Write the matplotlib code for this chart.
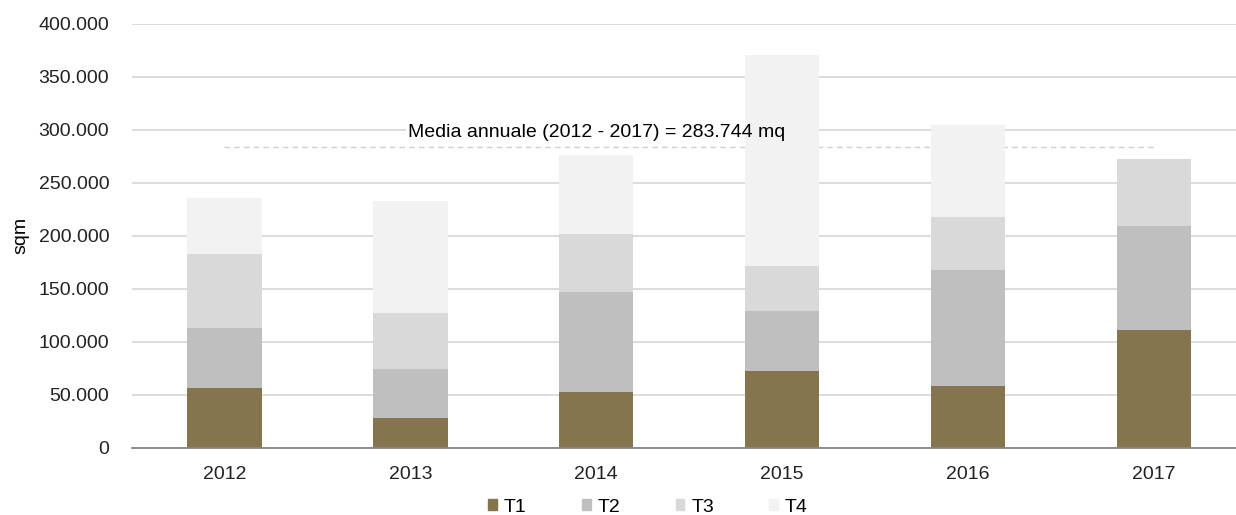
import matplotlib.pyplot as plt
from matplotlib.patches import Patch

plt.rcParams['font.family'] = ['Liberation Sans', 'DejaVu Sans']

# quarterly take-up per year (sqm)
years = ["2012", "2013", "2014", "2015", "2016", "2017"]
t1 = [56500, 28200, 52400, 72300, 58100, 111000]
t2 = [56700, 46200, 94500, 56900, 109600, 97900]
t3 = [69300, 52600, 54800, 42200, 50000, 63900]
t4 = [53200, 105500, 74900, 199600, 86900, 0]
quarters = ["T1", "T2", "T3", "T4"]
colors = ["#85754e", "#bfbfbf", "#d9d9d9", "#f2f2f2"]
media = 283744

fig = plt.figure(figsize=(12.36, 5.15), dpi=100)
ax = fig.add_axes([131.5 / 1236, 67.5 / 515, 1115.5 / 1236, 423.5 / 515])

x = list(range(len(years)))
bottom = [0] * len(years)
for vals, q, c in zip([t1, t2, t3, t4], quarters, colors):
    ax.bar(x, vals, width=0.4, bottom=bottom, color=c, label=q, zorder=2)
    bottom = [b + v for b, v in zip(bottom, vals)]

ax.set_ylim(0, 400000)
ax.set_xlim(-0.5, 5.5)
ax.set_yticks(range(0, 400001, 50000))
ax.set_yticklabels(["0" if v == 0 else f"{v:,}".replace(",", ".") for v in range(0, 400001, 50000)])
ax.set_xticks(x)
ax.set_xticklabels(years)
ax.tick_params(length=0, labelsize=14, colors="#222222")
ax.tick_params(axis="y", pad=16)
ax.tick_params(axis="x", pad=13)
ax.yaxis.grid(True, color="#d9d9d9", linewidth=1.3, zorder=0)
ax.set_axisbelow(True)
for s in ["top", "right", "left"]:
    ax.spines[s].set_visible(False)
ax.spines["bottom"].set_color("#868686")
ax.spines["bottom"].set_linewidth(1.3)
ax.spines["bottom"].set_zorder(3)

ax.set_ylabel("sqm", fontsize=14, labelpad=6.5)

# annual average line and label
ax.plot([0, 5], [media, media], color="#d0d0d0", linestyle=(0, (4, 3)), linewidth=1, zorder=1.5)
label = "Media annuale (2012 - 2017) = " + f"{media:,}".replace(",", ".") + " mq"
ax.text(2, media + 6000, label, ha="center", va="bottom", fontsize=14, color="white",
        bbox=dict(facecolor="white", edgecolor="none", pad=1), zorder=1)
ax.text(2, media + 6000, label, ha="center", va="bottom", fontsize=14, color="black", zorder=5)

handles = [Patch(color=c, label=q) for q, c in zip(quarters, colors)]
fig.legend(handles=handles, loc="center", bbox_to_anchor=(648 / 1236, 8 / 515), ncol=4,
           frameon=False, fontsize=14, handlelength=0.45, handleheight=0.45,
           handletextpad=0.35, columnspacing=2.85, borderaxespad=0)

fig.savefig("out.png", dpi=100)
